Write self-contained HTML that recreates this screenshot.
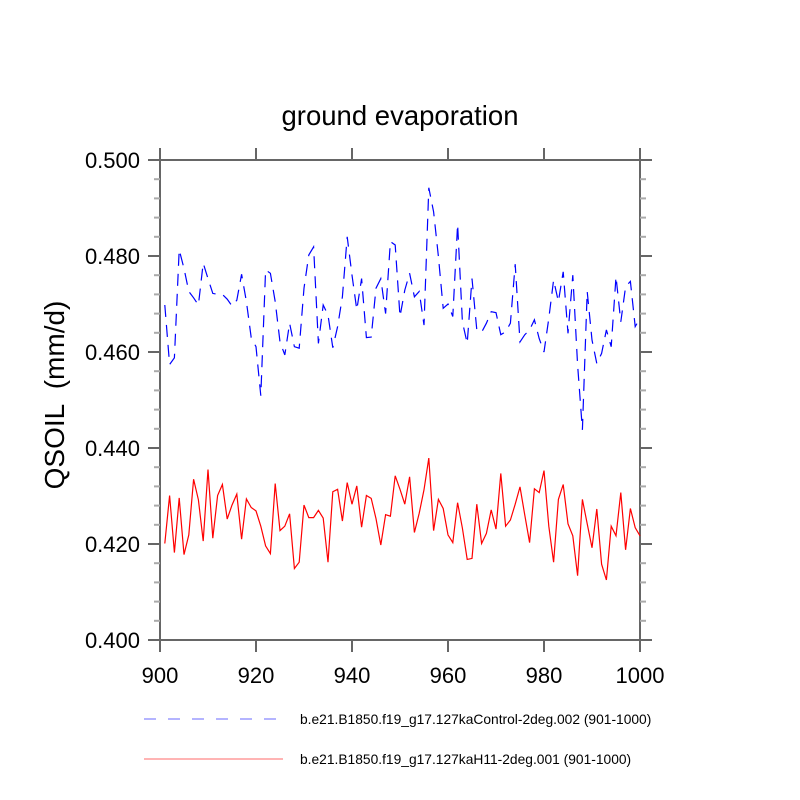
<!DOCTYPE html>
<html><head><meta charset="utf-8"><style>
body{margin:0;background:#fff}
svg{display:block;font-family:"Liberation Sans",Arial,sans-serif}
</style></head><body>
<svg id="chart" width="800" height="800">
<text x="400" y="125" font-size="27.5" text-anchor="middle">ground evaporation</text>
<text transform="translate(64,395) rotate(-90)" font-size="28" text-anchor="middle" style="white-space:pre" xml:space="preserve">QSOIL  (mm/d)</text>
<g id="axes"></g>
<g id="series"></g>
<line x1="144" y1="719" x2="276" y2="719" stroke="#6a6aff" stroke-width="1" stroke-dasharray="12,12"/>
<text x="300" y="724" font-size="13.8">b.e21.B1850.f19_g17.127kaControl-2deg.002 (901-1000)</text>
<line x1="144" y1="759" x2="283" y2="759" stroke="#ff6a6a" stroke-width="1"/>
<text x="300" y="764" font-size="13.8">b.e21.B1850.f19_g17.127kaH11-2deg.001 (901-1000)</text>
</svg>
<script>
const xTicks=[900,920,940,960,980,1000];
const yTicks=[0.400,0.420,0.440,0.460,0.480,0.500];
const control=[0.4698,0.4574,0.4588,0.4813,0.4774,0.4726,0.4713,0.4698,0.4785,0.4753,
0.4722,0.4720,0.4720,0.4710,0.4696,0.4708,0.4762,0.4705,0.4630,0.4611,
0.4509,0.4771,0.4764,0.4705,0.4621,0.4594,0.4660,0.4611,0.4608,0.4733,
0.4802,0.4819,0.4618,0.4698,0.4677,0.4609,0.4653,0.4715,0.4840,0.4760,
0.4688,0.4753,0.4630,0.4631,0.4733,0.4753,0.4680,0.4830,0.4823,0.4674,
0.4729,0.4764,0.4715,0.4726,0.4656,0.4942,0.4892,0.4799,0.4691,0.4700,
0.4674,0.4866,0.4663,0.4618,0.4753,0.4646,0.4641,0.4660,0.4684,0.4682,
0.4636,0.4642,0.4660,0.4783,0.4621,0.4636,0.4646,0.4667,0.4628,0.4600,
0.4670,0.4750,0.4705,0.4767,0.4639,0.4760,0.4573,0.4438,0.4726,0.4625,
0.4576,0.4597,0.4646,0.4611,0.4757,0.4663,0.4736,0.4747,0.4653,0.4670];
const h11=[0.4201,0.4301,0.4182,0.4296,0.4178,0.4219,0.4335,0.4292,0.4206,0.4355,
0.4212,0.4301,0.4324,0.4252,0.4281,0.4304,0.4210,0.4294,0.4276,0.4269,
0.4237,0.4196,0.4180,0.4326,0.4228,0.4237,0.4263,0.4149,0.4162,0.4281,
0.4255,0.4255,0.4270,0.4254,0.4162,0.4309,0.4314,0.4248,0.4328,0.4283,
0.4321,0.4235,0.4301,0.4295,0.4253,0.4198,0.4261,0.4258,0.4342,0.4314,
0.4283,0.4340,0.4224,0.4264,0.4313,0.4379,0.4228,0.4293,0.4274,0.4219,
0.4203,0.4286,0.4233,0.4168,0.4170,0.4283,0.4201,0.4222,0.4271,0.4231,
0.4347,0.4237,0.4250,0.4283,0.4319,0.4260,0.4203,0.4315,0.4307,0.4353,
0.4237,0.4162,0.4293,0.4324,0.4242,0.4217,0.4134,0.4293,0.4242,0.4192,
0.4273,0.4158,0.4125,0.4237,0.4217,0.4307,0.4188,0.4274,0.4234,0.4217];
const startYear=901;
const L=160,R=640,T=160,B=640;
const xs=v=>L+(v-900)/100*(R-L);
const ys=v=>B-(v-0.4)/0.1*(B-T);
const NS="http://www.w3.org/2000/svg";
function mk(tag,attrs,parent){const e=document.createElementNS(NS,tag);for(const k in attrs)e.setAttribute(k,attrs[k]);parent.appendChild(e);return e;}
const ax=document.getElementById('axes');
const frame=mk('rect',{x:L,y:T,width:R-L,height:B-T,fill:'none',stroke:'#666',"stroke-width":2},ax);


xTicks.forEach(v=>{
 const x=xs(v);
 const t1=mk('line',{x1:x,y1:B,x2:x,y2:B+12,stroke:'#666',"stroke-width":2},ax);
 
 
 const t2=mk('line',{x1:x,y1:T,x2:x,y2:T-12,stroke:'#666',"stroke-width":2},ax);
 
 
 const tx=mk('text',{x:x,y:683,"font-size":22,"text-anchor":"middle"},ax);
 tx.textContent=String(v);
 
 
});
yTicks.forEach(v=>{
 const y=ys(v);
 const t1=mk('line',{x1:L-12,y1:y,x2:L,y2:y,stroke:'#666',"stroke-width":2},ax);
 
 
 const t2=mk('line',{x1:R,y1:y,x2:R+12,y2:y,stroke:'#666',"stroke-width":2},ax);
 
 
 const tx=mk('text',{x:140,y:y+8,"font-size":22,"text-anchor":"end"},ax);
 tx.textContent=v.toFixed(3);
 
 
});
for(let v=0.404;v<0.5;v+=0.004){
 if(Math.abs((v*1000)%20)<0.5||Math.abs((v*1000)%20-20)<0.5)continue;
 const y=ys(v);
 const m1=mk('line',{x1:L-6,y1:y,x2:L,y2:y,stroke:'#aaa',"stroke-width":2},ax);
 
 
 const m2=mk('line',{x1:R,y1:y,x2:R+6,y2:y,stroke:'#aaa',"stroke-width":2},ax);
 
 
}
const sg=document.getElementById('series');
function pts(arr){return arr.map((v,i)=>xs(startYear+i).toFixed(1)+','+ys(v).toFixed(1)).join(' ');}
const p1=mk('polyline',{points:pts(control),fill:'none',stroke:'#0000ff',"stroke-width":1.2,"stroke-dasharray":"12,8"},sg);


const p2=mk('polyline',{points:pts(h11),fill:'none',stroke:'#ff0000',"stroke-width":1.2},sg);


</script>
</body></html>
